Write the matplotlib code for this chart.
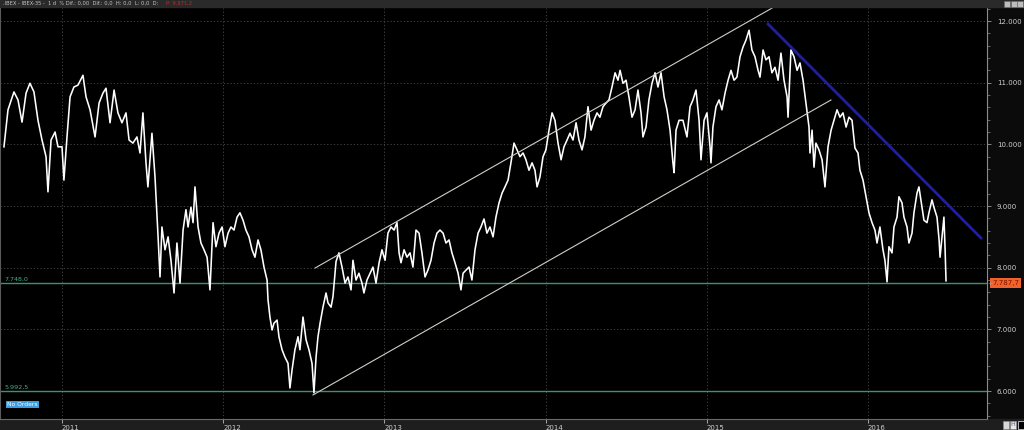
import numpy as np
import matplotlib.pyplot as plt
from matplotlib.patches import Rectangle

# IBEX-35 closes, time given as years after 1 Jan 2011
t_off = [
    -0.360, -0.335, -0.298, -0.273, -0.248, -0.223, -0.199, -0.174, -0.149, -0.124,
    -0.099, -0.087, -0.068, -0.043, -0.025, 0.000, 0.012, 0.031, 0.050, 0.074,
    0.099, 0.130, 0.149, 0.174, 0.205, 0.230, 0.254, 0.273, 0.298, 0.323,
    0.347, 0.372, 0.397, 0.416, 0.440, 0.465, 0.484, 0.502, 0.521, 0.533,
    0.558, 0.577, 0.596, 0.608, 0.620, 0.639, 0.658, 0.676, 0.695, 0.713,
    0.732, 0.751, 0.769, 0.782, 0.800, 0.813, 0.825, 0.844, 0.862, 0.881,
    0.900, 0.918, 0.937, 0.955, 0.974, 0.993, 1.011, 1.030, 1.048, 1.067,
    1.086, 1.104, 1.123, 1.141, 1.160, 1.179, 1.197, 1.216, 1.234, 1.253,
    1.272, 1.278, 1.290, 1.303, 1.315, 1.334, 1.346, 1.365, 1.383, 1.402,
    1.414, 1.427, 1.445, 1.464, 1.476, 1.495, 1.514, 1.532, 1.551, 1.563,
    1.576, 1.588, 1.601, 1.619, 1.638, 1.650, 1.669, 1.681, 1.700, 1.718,
    1.737, 1.756, 1.774, 1.793, 1.805, 1.824, 1.842, 1.861, 1.873, 1.892,
    1.911, 1.929, 1.948, 1.967, 1.985, 2.004, 2.022, 2.041, 2.060, 2.078,
    2.091, 2.103, 2.122, 2.140, 2.159, 2.177, 2.196, 2.215, 2.233, 2.252,
    2.270, 2.289, 2.308, 2.326, 2.345, 2.364, 2.382, 2.401, 2.419, 2.438,
    2.457, 2.475, 2.488, 2.506, 2.525, 2.543, 2.562, 2.581, 2.599, 2.618,
    2.636, 2.655, 2.674, 2.692, 2.711, 2.730, 2.748, 2.767, 2.785, 2.804,
    2.823, 2.841, 2.860, 2.878, 2.897, 2.916, 2.934, 2.947, 2.965, 2.984,
    3.002, 3.021, 3.040, 3.058, 3.077, 3.096, 3.114, 3.133, 3.151, 3.170,
    3.189, 3.207, 3.226, 3.244, 3.263, 3.282, 3.300, 3.319, 3.337, 3.356,
    3.375, 3.393, 3.412, 3.431, 3.449, 3.462, 3.480, 3.499, 3.517, 3.536,
    3.555, 3.573, 3.592, 3.604, 3.623, 3.641, 3.660, 3.679, 3.697, 3.716,
    3.735, 3.753, 3.772, 3.790, 3.797, 3.809, 3.828, 3.852, 3.877, 3.896,
    3.914, 3.933, 3.952, 3.964, 3.983, 4.001, 4.020, 4.026, 4.038, 4.057,
    4.076, 4.094, 4.113, 4.132, 4.150, 4.169, 4.187, 4.206, 4.225, 4.243,
    4.262, 4.280, 4.299, 4.318, 4.330, 4.349, 4.367, 4.386, 4.404, 4.423,
    4.442, 4.460, 4.479, 4.498, 4.504, 4.522, 4.541, 4.560, 4.578, 4.597,
    4.615, 4.634, 4.640, 4.653, 4.665, 4.677, 4.696, 4.715, 4.733, 4.752,
    4.771, 4.789, 4.808, 4.826, 4.845, 4.864, 4.882, 4.901, 4.919, 4.938,
    4.950, 4.969, 4.988, 5.006, 5.025, 5.043, 5.056, 5.074, 5.093, 5.105,
    5.118, 5.130, 5.149, 5.161, 5.180, 5.192, 5.211, 5.223, 5.242, 5.254,
    5.273, 5.285, 5.304, 5.316, 5.335, 5.347, 5.366, 5.378, 5.397, 5.409,
    5.428, 5.441, 5.447, 5.459, 5.471, 5.478, 5.484,
]
close = [
    9960, 10560, 10850, 10720, 10360, 10830, 10990, 10850, 10390, 10070,
    9800, 9230, 10070, 10200, 9960, 9960, 9420, 10120, 10770, 10930,
    10960, 11120, 10770, 10560, 10120, 10670, 10830, 10910, 10350, 10880,
    10510, 10350, 10510, 10070, 10020, 10120, 9860, 10510, 9700, 9310,
    10180, 9470, 8500, 7850, 8660, 8290, 8500, 8120, 7590, 8400,
    7750, 8610, 8940, 8660, 8980, 8730, 9310, 8660, 8400, 8290,
    8170, 7640, 8730, 8340, 8560, 8660, 8340, 8560, 8660, 8610,
    8820, 8890, 8770, 8610, 8500, 8290, 8170, 8450, 8290, 8010,
    7800, 7480, 7200, 6990, 7100, 7150, 6880, 6670, 6550, 6450,
    6050, 6340, 6670, 6880, 6670, 7200, 6830, 6670, 6450, 5970,
    6550, 6880, 7100, 7360, 7590, 7430, 7360, 7530, 8100, 8240,
    8010, 7750, 7850, 7640, 8120, 7800, 7910, 7750, 7590, 7800,
    7910, 8010, 7750, 8080, 8290, 8120, 8560, 8660, 8610, 8730,
    8240, 8080, 8290, 8170, 8240, 8010, 8610, 8560, 8240, 7850,
    7960, 8120, 8400, 8560, 8610, 8560, 8400, 8450, 8240, 8080,
    7910, 7640, 7910, 7960, 8010, 7800, 8290, 8560, 8660, 8790,
    8560, 8660, 8500, 8820, 9050, 9210, 9310, 9420, 9700, 10020,
    9910, 9800, 9860, 9750, 9580, 9700, 9580, 9310, 9470, 9800,
    9910, 10230, 10510, 10390, 10020, 9750, 9960, 10070, 10180, 10070,
    10350, 10070, 9910, 10120, 10610, 10230, 10390, 10510, 10440, 10610,
    10670, 10720, 10930, 11160, 11040, 11200, 10990, 11040, 10770, 10440,
    10560, 10880, 10510, 10120, 10280, 10720, 10990, 11160, 10930, 11160,
    10770, 10560, 10230, 9700, 9540, 10230, 10390, 10390, 10120, 10610,
    10720, 10880, 10390, 9750, 10390, 10510, 9960, 9700, 10280, 10610,
    10720, 10560, 10830, 11040, 11200, 11040, 11090, 11420, 11580, 11690,
    11850, 11530, 11420, 11200, 11090, 11530, 11370, 11420, 11160, 11250,
    11040, 11480, 11040, 10770, 10440, 11530, 11420, 11200, 11320, 11040,
    10670, 10280, 9860, 10230, 9630, 10020, 9910, 9750, 9310, 9960,
    10230, 10390, 10560, 10440, 10510, 10280, 10440, 10390, 9940, 9860,
    9580, 9420, 9150, 8890, 8730, 8610, 8400, 8660, 8290, 8120,
    7770, 8340, 8240, 8660, 8820, 9150, 9050, 8820, 8660, 8400,
    8560, 8890, 9210, 9310, 8980, 8770, 8730, 8890, 9100, 8980,
    8820, 8450, 8170, 8500, 8820, 8320, 7787,
]
t = 2011 + np.array(t_off)

year_ticks = [2011, 2012, 2013, 2014, 2015, 2016]
price_ticks = [6000, 7000, 8000, 9000, 10000, 11000, 12000]
price_labels = ['6.000', '7.000', '8.000', '9.000', '10.000', '11.000', '12.000']

levels = [7748.0, 5992.5]
level_labels = ['7.748,0', '5.992,5']
last_price = '7.787,7'

# trend lines drawn on the chart: (t0, p0, t1, p1)
upper_chan = [2012.570, 7995, 2015.405, 12210]
lower_chan = [2012.557, 5936, 2015.770, 10719]
down_trend = [2015.380, 11951, 2016.701, 8481]

W, H = 1024, 430
fig = plt.figure(figsize=(W / 100, H / 100), dpi=100, facecolor='#0b0b0b')

def fx(x):
    return x / W

def fy(y):
    return 1 - y / H

ax = fig.add_axes([0, fy(419), fx(987), (419 - 8) / H])
ax.set_facecolor('black')
ax.set_xlim(2010.6154, 2016.7382)
ax.set_ylim(5546.4, 12210.8)

grid_kw = dict(color='#4a4a4a', lw=0.6, ls=(0, (1.5, 2.5)), zorder=1)
for yv in price_ticks:
    ax.axhline(yv, **grid_kw)
for xv in year_ticks:
    ax.axvline(xv, **grid_kw)

for lv, lab in zip(levels, level_labels):
    ax.axhline(lv, color='#3f8f72', lw=1.0, zorder=2)
    ax.text(2010.645, lv + 25, lab, color='#46b088', fontsize=4.6, va='bottom', ha='left')

ax.plot(t, close, color='white', lw=1.15, zorder=3)

for seg, col, lw in [(upper_chan, '#cfcfc6', 0.8), (lower_chan, '#cfcfc6', 0.8),
                     (down_trend, '#1f1fa0', 2.0)]:
    ax.plot([seg[0], seg[2]], [seg[1], seg[3]], color=col, lw=lw, zorder=4)

# axes styling
ax.yaxis.tick_right()
ax.set_yticks(price_ticks)
ax.set_yticklabels(price_labels)
ax.set_yticks(np.arange(5600, 12201, 200), minor=True)
ax.tick_params(axis='y', which='major', colors='#9a9a9a', labelcolor='#cfcfcf',
               labelsize=5, length=3, width=0.6, pad=4)
ax.tick_params(axis='y', which='minor', colors='#8a8a8a', length=2, width=0.5)
ax.set_xticks(year_ticks)
ax.set_xticklabels([str(y) for y in year_ticks])
for lab in ax.get_xticklabels():
    lab.set_horizontalalignment('left')
ax.tick_params(axis='x', colors='#bdbdbd', labelcolor='#cfcfcf', labelsize=5,
               length=3, width=0.6, pad=1)
ax.spines['top'].set_visible(False)
ax.spines['right'].set_color('#8c8c8c')
ax.spines['left'].set_color('#5a5a5a')
ax.spines['bottom'].set_color('#6a6a6a')
for s in ax.spines.values():
    s.set_linewidth(0.8)

# bottom strip and header bar
fig.patches.append(Rectangle((0, 0), 1, fy(419), transform=fig.transFigure,
                             color='#1e1e1e', zorder=-1))
fig.patches.append(Rectangle((0, fy(7)), 1, 7 / H, transform=fig.transFigure,
                             color='#2a2a2a', zorder=0))
fig.text(fx(3), fy(3.6), '.IBEX - IBEX-35 -  1 d  % Dif.: 0,00  Dif.: 0,0  H: 0,0  L: 0,0  D:',
         color='#c4c4c4', fontsize=3.7, va='center', ha='left')
fig.text(fx(166), fy(3.6), 'P: 9.871,2', color='#c02828', fontsize=3.7, va='center', ha='left')

# window buttons top right
for bx in [1004, 1011, 1017]:
    fig.patches.append(Rectangle((fx(bx), fy(7)), 5.5 / W, 5.5 / H, transform=fig.transFigure,
                                 facecolor='#bdbdbd', edgecolor='#6a6a6a', lw=0.4, zorder=2))

# bottom right small icons
fig.patches.append(Rectangle((fx(1003), fy(429)), 6 / W, 8 / H, transform=fig.transFigure,
                             facecolor='#d8d8d8', edgecolor='#909090', lw=0.4, zorder=2))
fig.patches.append(Rectangle((fx(1010), fy(429)), 6 / W, 8 / H, transform=fig.transFigure,
                             facecolor='#e8e8e8', edgecolor='#909090', lw=0.4, zorder=2))
fig.text(fx(1013), fy(425), 'H', color='#6a4a9a', fontsize=4.5, ha='center', va='center')
fig.patches.append(Rectangle((fx(1018), fy(429)), 5.5 / W, 8 / H, transform=fig.transFigure,
                             facecolor='black', edgecolor='#cfcfcf', lw=0.6, zorder=2))

# No Orders tag
fig.text(fx(7), fy(404.5), 'No Orders', color='white', fontsize=4.3, ha='left', va='center',
         bbox=dict(boxstyle='square,pad=0.25', facecolor='#3c9ee0', edgecolor='none'))

# last price tag
fig.text(fx(992), fy(283), last_price, color='#7a1500', fontsize=5, ha='left', va='center',
         bbox=dict(boxstyle='square,pad=0.25', facecolor='#f0622c', edgecolor='none'))
fig.text(fx(989.5), fy(283.5), '+', color='#aaaaaa', fontsize=4.5, ha='center', va='center')

fig.savefig('out.png', dpi=100, facecolor=fig.get_facecolor())
